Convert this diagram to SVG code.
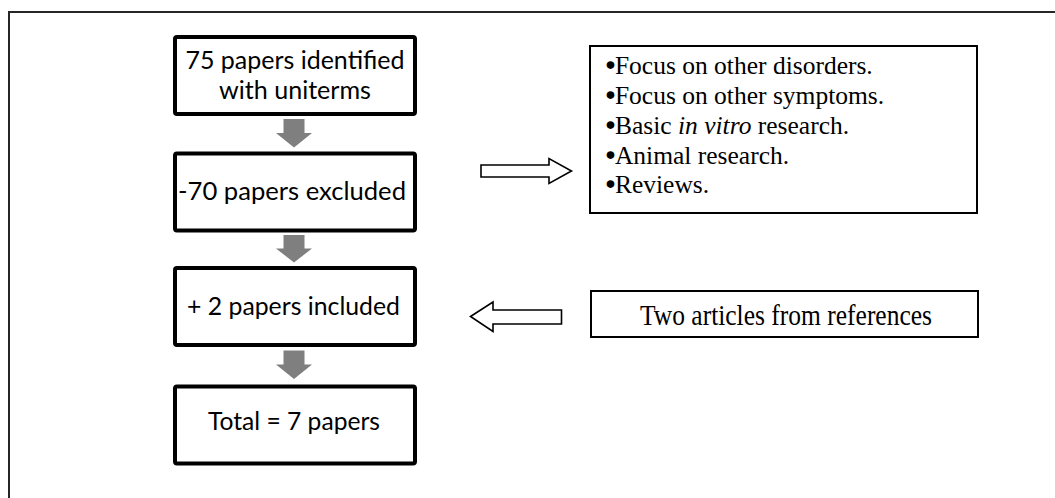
<svg xmlns="http://www.w3.org/2000/svg" width="1055" height="498" viewBox="0 0 1055 498">
<style>
.frame{fill:none;stroke:#262626;stroke-width:2}
.main{fill:#fff;stroke:#000;stroke-width:4}
.side{fill:#fff;stroke:#000;stroke-width:2}
.down{fill:#7f7f7f;stroke:none}
.hollow{fill:#fff;stroke:#000;stroke-width:1.6;stroke-linejoin:miter}
.sans{font-family:Lato,"Liberation Sans",sans-serif;font-size:25px;fill:#000}
.serif{font-family:"Liberation Serif","Times New Roman",serif;font-size:25.5px;fill:#000}
.bul{stroke:#000;stroke-width:1.6px}
</style>
<rect width="1055" height="498" fill="#fff"/>
<path class="frame" d="M9,498 V12 H1055"/>
<g id="node-identified">
<rect class="main" x="175" y="37" width="240" height="77" rx="2"/>
<text class="sans" x="295" y="68.5" text-anchor="middle" textLength="219" lengthAdjust="spacingAndGlyphs">75 papers identified</text>
<text class="sans" x="295" y="98.5" text-anchor="middle" textLength="152" lengthAdjust="spacingAndGlyphs">with uniterms</text>
</g>
<g id="node-excluded">
<rect class="main" x="175" y="153.5" width="240" height="77" rx="2"/>
<text class="sans" x="292" y="200" text-anchor="middle" textLength="228" lengthAdjust="spacingAndGlyphs">-70 papers excluded</text>
</g>
<g id="node-included">
<rect class="main" x="175" y="268" width="240" height="77" rx="2"/>
<text class="sans" x="293.5" y="315" text-anchor="middle" textLength="213" lengthAdjust="spacingAndGlyphs">+ 2 papers included</text>
</g>
<g id="node-total">
<rect class="main" x="175" y="386.5" width="240" height="77" rx="2"/>
<text class="sans" x="294" y="430" text-anchor="middle" textLength="172" lengthAdjust="spacingAndGlyphs">Total = 7 papers</text>
</g>
<g id="node-reasons">
<rect class="side" x="590" y="46" width="387" height="167"/>
<text class="serif" x="606" y="74"><tspan class="bul">•</tspan>Focus on other disorders.</text>
<text class="serif" x="606" y="104"><tspan class="bul">•</tspan>Focus on other symptoms.</text>
<text class="serif" x="606" y="133.5"><tspan class="bul">•</tspan>Basic <tspan font-style="italic">in vitro</tspan> research.</text>
<text class="serif" x="606" y="163.5"><tspan class="bul">•</tspan>Animal research.</text>
<text class="serif" x="606" y="193"><tspan class="bul">•</tspan>Reviews.</text>
</g>
<g id="node-references">
<rect class="side" x="591" y="291" width="387" height="46"/>
<text class="serif" x="786" y="324.5" text-anchor="middle" textLength="292" lengthAdjust="spacingAndGlyphs" style="font-size:29px">Two articles from references</text>
</g>
<g id="connectors">
<polygon class="down" points="283.5,119 304.5,119 304.5,133 312,133 294,147.5 276,133 283.5,133"/>
<polygon class="down" points="283.5,235 304.5,235 304.5,248.5 312,248.5 294,262.5 276,248.5 283.5,248.5"/>
<polygon class="down" points="283.5,350.5 304.5,350.5 304.5,364.5 312,364.5 294,379 276,364.5 283.5,364.5"/>
<polygon class="hollow" points="481,165 549,165 549,158.5 571.5,171 549,183.5 549,177 481,177"/>
<polygon class="hollow" points="470.5,316.5 493,302 493,310 561.5,310 561.5,324 493,324 493,331.5"/>
</g>
</svg>
